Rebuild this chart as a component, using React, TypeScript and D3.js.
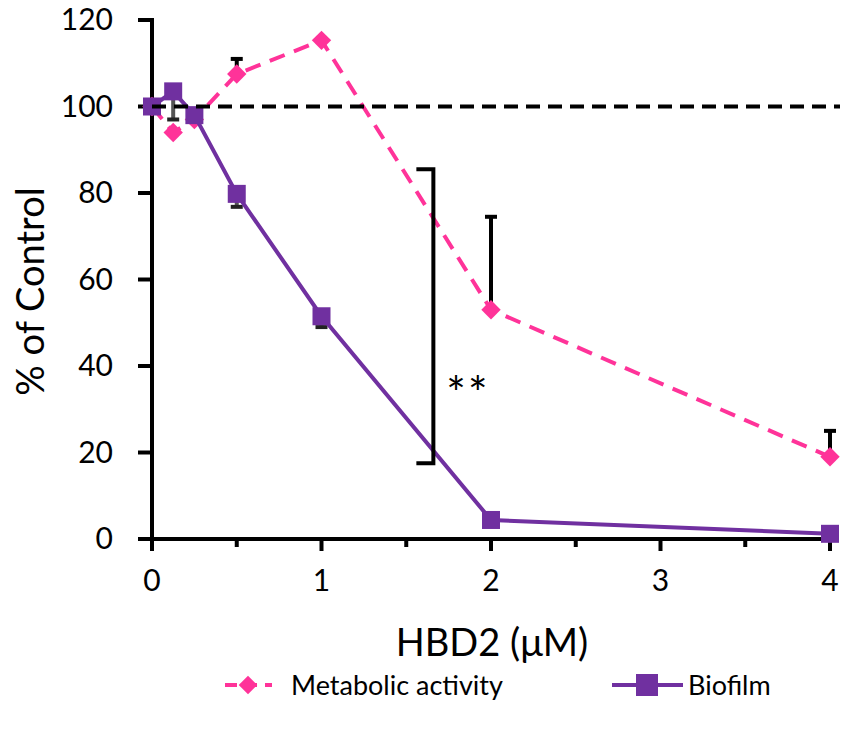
import React, { useEffect, useRef } from 'react';
import * as d3 from 'd3';

// HBD2 concentrations (µM)
const doses = [0, 0.125, 0.25, 0.5, 1, 2, 4];
// % of control
const metabolic = [100, 94, 97, 107.5, 115.3, 53, 19];
const metabolicErr = [0, 0, 0, 3.5, 0, 21.5, 6];
const biofilm = [100, 103.5, 98, 79.8, 51.5, 4.4, 1.2];
const biofilmErr = [0, 6.5, 0, 3, 2.5, 0, 0];
const xTicks = [0, 1, 2, 3, 4];
const xMinorTicks = [0.5, 1.5, 2.5, 3.5];
const yTicks = [0, 20, 40, 60, 80, 100, 120];
// significance bracket (x position, low, high)
const bracket = { x: 1.66, lo: 17.5, hi: 85.5, label: '**' };

const PINK = '#ff3399';
const PURPLE = '#7030a0';
const FONT = 'Lato, "Open Sans", sans-serif';

const App = () => {
  const svgRef = useRef(null);

  useEffect(() => {
    const svg = d3.select(svgRef.current);
    svg.selectAll('*').remove();

    const x = d3.scaleLinear().domain([0, 4]).range([152, 830]);
    const y = d3.scaleLinear().domain([0, 120]).range([539, 20]);

    // axes
    const ax = svg.append('g').attr('stroke', '#000').attr('stroke-width', 4);
    ax.append('line').attr('x1', x(0)).attr('x2', x(0)).attr('y1', y(120) - 2).attr('y2', y(0) + 8);
    ax.append('line').attr('x1', x(0) - 14).attr('x2', x(4) + 2).attr('y1', y(0)).attr('y2', y(0));
    yTicks.forEach(t => {
      ax.append('line').attr('x1', x(0) - 14).attr('x2', x(0)).attr('y1', y(t)).attr('y2', y(t));
    });
    xTicks.forEach(t => {
      ax.append('line').attr('x1', x(t)).attr('x2', x(t)).attr('y1', y(0)).attr('y2', y(0) + 12);
    });
    xMinorTicks.forEach(t => {
      ax.append('line').attr('x1', x(t)).attr('x2', x(t)).attr('y1', y(0)).attr('y2', y(0) + 8);
    });

    svg.append('g').selectAll('text').data(yTicks).join('text')
      .attr('x', 113).attr('y', d => y(d)).attr('dy', '0.34em')
      .attr('text-anchor', 'end').attr('font-size', 30).attr('font-family', FONT)
      .text(d => d);
    svg.append('g').selectAll('text').data(xTicks).join('text')
      .attr('x', d => x(d)).attr('y', 580).attr('dy', '0.36em')
      .attr('text-anchor', 'middle').attr('font-size', 30).attr('font-family', FONT)
      .text(d => d);

    svg.append('text').attr('x', 492).attr('y', 642).attr('dy', '0.36em')
      .attr('text-anchor', 'middle').attr('font-size', 38).attr('font-family', FONT)
      .text('HBD2 (\u03bcM)');
    svg.append('text').attr('transform', `translate(30,${y(60) + 12}) rotate(-90)`)
      .attr('dy', '0.36em').attr('text-anchor', 'middle').attr('font-size', 38)
      .attr('font-family', FONT).text('% of Control');

    const line = d3.line<number>().x((_, i) => x(doses[i])).y(d => y(d));

    // metabolic error bars (up, black)
    const capW = 6;
    metabolic.forEach((v, i) => {
      const e = metabolicErr[i];
      if (!e) return;
      svg.append('line').attr('x1', x(doses[i])).attr('x2', x(doses[i]))
        .attr('y1', y(v)).attr('y2', y(v + e)).attr('stroke', '#000').attr('stroke-width', 4);
      svg.append('line').attr('x1', x(doses[i]) - capW).attr('x2', x(doses[i]) + capW)
        .attr('y1', y(v + e)).attr('y2', y(v + e)).attr('stroke', '#000').attr('stroke-width', 4);
    });

    // metabolic series
    svg.append('path').attr('d', line(metabolic)).attr('fill', 'none')
      .attr('stroke', PINK).attr('stroke-width', 4).attr('stroke-dasharray', '16,10');
    svg.append('g').selectAll('path').data(metabolic).join('path')
      .attr('d', d3.symbol(d3.symbolDiamond2, 240)())
      .attr('transform', (d, i) => `translate(${x(doses[i])},${y(d)})`)
      .attr('fill', PINK);

    // biofilm error bars (down, grey)
    biofilm.forEach((v, i) => {
      const e = biofilmErr[i];
      if (!e) return;
      svg.append('line').attr('x1', x(doses[i])).attr('x2', x(doses[i]))
        .attr('y1', y(v)).attr('y2', y(v - e)).attr('stroke', '#555').attr('stroke-width', 4);
      svg.append('line').attr('x1', x(doses[i]) - capW).attr('x2', x(doses[i]) + capW)
        .attr('y1', y(v - e)).attr('y2', y(v - e)).attr('stroke', '#222').attr('stroke-width', 4);
    });

    // biofilm series
    svg.append('path').attr('d', line(biofilm)).attr('fill', 'none')
      .attr('stroke', PURPLE).attr('stroke-width', 4);
    svg.append('g').selectAll('rect').data(biofilm).join('rect')
      .attr('x', (d, i) => x(doses[i]) - 9).attr('y', d => y(d) - 9)
      .attr('width', 18).attr('height', 18).attr('fill', PURPLE);

    // reference line at 100 %
    svg.append('line').attr('x1', x(0)).attr('x2', x(4) + 10)
      .attr('y1', y(100)).attr('y2', y(100))
      .attr('stroke', '#000').attr('stroke-width', 4).attr('stroke-dasharray', '14,8');

    // significance bracket
    const bx = x(bracket.x);
    svg.append('path')
      .attr('d', `M${bx - 17},${y(bracket.hi)}H${bx}V${y(bracket.lo)}H${bx - 17}`)
      .attr('fill', 'none').attr('stroke', '#000').attr('stroke-width', 4);
    svg.append('text').attr('x', bx + 13).attr('y', 410)
      .attr('font-size', 46).attr('font-family', FONT).text(bracket.label)
      .attr('letter-spacing', 2);

    // legend
    const lg = svg.append('g').attr('transform', 'translate(0,685)');
    lg.append('line').attr('x1', 225).attr('x2', 272).attr('stroke', PINK)
      .attr('stroke-width', 4).attr('stroke-dasharray', '12,8');
    lg.append('path').attr('d', d3.symbol(d3.symbolDiamond2, 220)())
      .attr('transform', 'translate(248,0)').attr('fill', PINK);
    lg.append('text').attr('x', 291).attr('dy', '0.36em').attr('font-size', 27)
      .attr('font-family', FONT).text('Metabolic activity');
    lg.append('line').attr('x1', 612).attr('x2', 683).attr('stroke', PURPLE).attr('stroke-width', 4);
    lg.append('rect').attr('x', 636).attr('y', -11).attr('width', 22).attr('height', 22).attr('fill', PURPLE);
    lg.append('text').attr('x', 688).attr('dy', '0.36em').attr('font-size', 27)
      .attr('font-family', FONT).text('Biofilm');
  }, []);

  return (
    <svg
      ref={svgRef}
      width={853}
      height={732}
      style={{ position: 'absolute', left: 0, top: 0, background: '#fff' }}
    />
  );
};

export default App;
